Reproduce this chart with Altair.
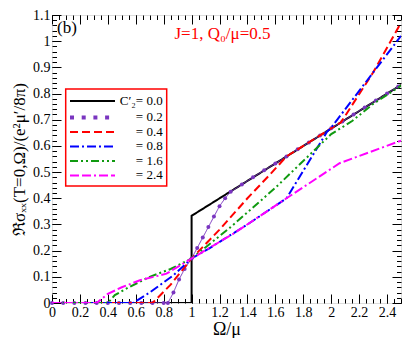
import altair as alt
import pandas as pd

# ---- data ----
black_x = [0, 1.0, 1.0, 2.5]
black_y = [0, 0, 0.333, 0.833]

purple_x = [0, 0.08, 0.16, 0.24, 0.32, 0.40, 0.48, 0.56, 0.64, 0.72, 0.80, 0.83,
            0.87, 0.91, 0.95, 1.0, 1.04, 1.08, 1.12, 1.16, 1.2, 1.24, 1.28,
            1.36, 1.44, 1.52, 1.6, 1.68, 1.76, 1.84, 1.92, 2.0, 2.08, 2.16,
            2.24, 2.32, 2.4, 2.48]
purple_y = [0, 0, 0, 0, 0, 0, 0, 0, 0, 0, 0, 0,
            0.04, 0.09, 0.13, 0.17, 0.21, 0.25, 0.29, 0.33, 0.37, 0.40, 0.425,
            0.453, 0.48, 0.507, 0.533, 0.56, 0.587, 0.613, 0.64, 0.667, 0.693, 0.72,
            0.747, 0.773, 0.80, 0.827]

red_x = [0, 0.72, 0.85, 1.0, 1.2, 1.4, 1.56, 1.68, 1.8, 2.0, 2.07, 2.3, 2.5]
red_y = [0, 0, 0.07, 0.17, 0.28, 0.40, 0.49, 0.56, 0.60, 0.667, 0.69, 0.88, 1.07]

blue_x = [0, 0.58, 0.7, 0.87, 1.0, 1.13, 1.4, 1.68, 1.97, 2.0, 2.5]
blue_y = [0, 0, 0.04, 0.106, 0.17, 0.21, 0.30, 0.40, 0.654, 0.67, 1.02]

green_x = [0, 0.4, 0.45, 0.55, 0.7, 0.85, 1.0, 1.28, 1.6, 2.0, 2.15, 2.3, 2.5]
green_y = [0, 0, 0.03, 0.06, 0.10, 0.13, 0.17, 0.29, 0.44, 0.645, 0.695, 0.76, 0.83]

magenta_x = [0, 0.32, 0.4, 0.5, 0.63, 0.82, 1.0, 1.3, 1.68, 2.06, 2.5]
magenta_y = [0, 0, 0.035, 0.06, 0.087, 0.112, 0.17, 0.265, 0.40, 0.534, 0.62]

labels = ["C\u2032\u2082= 0.0", "= 0.2", "= 0.4", "= 0.8", "= 1.6", "= 2.4"]

x_major = [0, 0.2, 0.4, 0.6, 0.8, 1.0, 1.2, 1.4, 1.6, 1.8, 2.0, 2.2, 2.4]
y_major = [0, 0.1, 0.2, 0.3, 0.4, 0.5, 0.6, 0.7, 0.8, 0.9, 1.0, 1.1]
x_minor = [round(i * 0.05, 2) for i in range(51)]
y_minor = [round(i * 0.02, 2) for i in range(56)]

W, H = 349, 288
FONT = "Liberation Serif"

xs = alt.Scale(domain=[0, 2.5], nice=False, zero=False)
ys = alt.Scale(domain=[0, 1.1], nice=False, zero=False)


def df(x, y):
    return pd.DataFrame({"x": x, "y": y, "i": list(range(len(x)))})


series = [
    ("black", black_x, black_y, "#000000", [1, 0], 2.0),
    ("purple", purple_x, purple_y, "#7a35c0", [1, 0], 1.0),
    ("red", red_x, red_y, "#ff0000", [8, 4], 2.0),
    ("blue", blue_x, blue_y, "#0000ff", [9, 3, 2, 3], 2.0),
    ("green", green_x, green_y, "#109a10", [8, 3, 2, 3, 2, 3], 2.0),
    ("magenta", magenta_x, magenta_y, "#ff00ff", [9, 3, 9, 3, 2, 3], 2.0),
]

base_df = df(black_x, black_y)


def axis_layer(xaxis, yaxis):
    return alt.Chart(base_df).mark_point(opacity=0).encode(
        x=alt.X("x:Q", scale=xs, axis=xaxis),
        y=alt.Y("y:Q", scale=ys, axis=yaxis),
    )


common = dict(labels=False, domain=False, grid=False, title=None, tickColor="black", tickWidth=1)

layers = []
# labelled axes (ticks drawn separately, pointing inward)
layers.append(axis_layer(
    alt.Axis(orient="bottom", values=x_major, format="~g", ticks=False, tickSize=0, domain=False,
             grid=False, labelPadding=2, labelFlush=False, labelOverlap=False,
             labelFont=FONT, labelFontSize=14, labelColor="black",
             title="\u03a9/\u03bc", titleFont=FONT, titleFontSize=18, titleFontWeight="normal",
             titleColor="black", titlePadding=1),
    alt.Axis(orient="left", values=y_major, format="~g", ticks=False, tickSize=0, domain=False,
             grid=False, labelPadding=2, labelFlush=False, labelOverlap=False,
             labelFont=FONT, labelFontSize=14, labelColor="black",
             title="\u211c\u03c3\u2093\u2093(T=0,\u03a9)/(e\u00b2\u03bc\u2032/8\u03c0)",
             titleFont=FONT, titleFontSize=17, titleFontWeight="normal",
             titleColor="black", titlePadding=4),
))
# inward ticks: bottom & left
layers.append(axis_layer(
    alt.Axis(orient="top", offset=-H, values=x_major, tickSize=9, **common),
    alt.Axis(orient="right", offset=-W, values=y_major, tickSize=9, **common),
))
layers.append(axis_layer(
    alt.Axis(orient="top", offset=-H, values=x_minor, tickSize=4.5, **common),
    alt.Axis(orient="right", offset=-W, values=y_minor, tickSize=4.5, **common),
))
# inward ticks: top & right
layers.append(axis_layer(
    alt.Axis(orient="bottom", offset=-H, values=x_major, tickSize=9, **common),
    alt.Axis(orient="left", offset=-W, values=y_major, tickSize=9, **common),
))
layers.append(axis_layer(
    alt.Axis(orient="bottom", offset=-H, values=x_minor, tickSize=4.5, **common),
    alt.Axis(orient="left", offset=-W, values=y_minor, tickSize=4.5, **common),
))

for name, sx, sy, col, dash, sw in series:
    d = df(sx, sy)
    layers.append(alt.Chart(d).mark_line(color=col, strokeDash=dash, strokeWidth=sw, clip=True).encode(
        x=alt.X("x:Q", scale=xs, axis=None),
        y=alt.Y("y:Q", scale=ys, axis=None),
        order=alt.Order("i:Q"),
    ))
    if name == "purple":
        layers.append(alt.Chart(d).mark_point(filled=True, color=col, size=16, opacity=1).encode(
            x=alt.X("x:Q", scale=xs, axis=None),
            y=alt.Y("y:Q", scale=ys, axis=None),
        ))

one = pd.DataFrame({"a": [0]})

# legend box
layers.append(alt.Chart(one).mark_rect(fill="white", stroke="red", strokeWidth=1.5).encode(
    x=alt.value(13.7), x2=alt.value(114.7), y=alt.value(74), y2=alt.value(171)))

row_y = [86, 102.5, 117, 131.5, 146, 160.5]
for k, (name, sx, sy, col, dash, sw) in enumerate(series):
    if name == "purple":
        layers.append(alt.Chart(one).mark_rule(color=col, strokeWidth=4, strokeDash=[4, 7.7]).encode(
            x=alt.value(18), x2=alt.value(63), y=alt.value(row_y[k])))
    else:
        layers.append(alt.Chart(one).mark_rule(color=col, strokeWidth=sw, strokeDash=dash).encode(
            x=alt.value(18), x2=alt.value(63), y=alt.value(row_y[k])))
    layers.append(alt.Chart(one).mark_text(align="right", baseline="middle", font=FONT,
                                           fontSize=13, color="black").encode(
        x=alt.value(110.7), y=alt.value(row_y[k] - 0.5), text=alt.value(labels[k])))

# annotations
layers.append(alt.Chart(one).mark_text(align="left", baseline="middle", font=FONT,
                                       fontSize=17, color="black").encode(
    x=alt.value(5), y=alt.value(13), text=alt.value("(b)")))
layers.append(alt.Chart(one).mark_text(align="center", baseline="alphabetic", font=FONT,
                                       fontSize=17, color="red").encode(
    x=alt.value(170.5), y=alt.value(24), text=alt.value("J=1, Q\u2080/\u03bc=0.5")))

chart = alt.layer(*layers).resolve_axis(x="independent", y="independent").properties(
    width=W, height=H,
    autosize=alt.AutoSizeParams(type="none"),
    padding={"left": 44, "top": 7, "right": 6, "bottom": 35},
).configure_view(stroke="black", strokeWidth=1.5).configure(background="white")

chart.save("out.html", embed_options={"renderer": "svg", "actions": False})
